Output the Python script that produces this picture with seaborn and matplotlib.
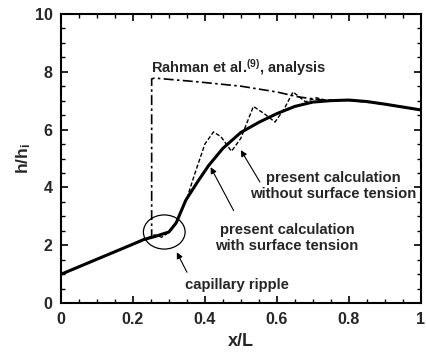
import numpy as np
import pandas as pd
import matplotlib
matplotlib.use("Agg")
import matplotlib.pyplot as plt
import seaborn as sns
from matplotlib.patches import Ellipse
from matplotlib.ticker import MultipleLocator

# ---- data ----
x_with = [0.0, 0.05, 0.10, 0.15, 0.20, 0.23, 0.26, 0.30, 0.32, 0.347, 0.38, 0.41,
          0.45, 0.50, 0.55, 0.60, 0.65, 0.70, 0.75, 0.80, 0.85, 0.90, 0.95, 1.0]
y_with = [1.0, 1.26, 1.52, 1.78, 2.04, 2.20, 2.30, 2.46, 2.77, 3.56, 4.20, 4.75,
          5.35, 5.90, 6.25, 6.55, 6.80, 6.95, 7.00, 7.02, 6.97, 6.88, 6.78, 6.68]

x_without = [0.0, 0.05, 0.10, 0.15, 0.20, 0.23, 0.26, 0.28, 0.30, 0.32, 0.35, 0.37,
             0.40, 0.424, 0.445, 0.474, 0.50, 0.535, 0.565, 0.595, 0.62, 0.645,
             0.68, 0.71, 0.74, 0.78, 0.85, 0.90, 0.95, 1.0]
y_without = [1.0, 1.26, 1.52, 1.78, 2.04, 2.20, 2.36, 2.28, 2.45, 2.80, 3.62, 4.40,
             5.50, 5.92, 5.75, 5.25, 5.70, 6.80, 6.55, 6.26, 6.70, 7.30,
             6.96, 7.10, 7.00, 7.02, 6.97, 6.88, 6.78, 6.68]

x_rahman = [0.0, 0.10, 0.20, 0.252, 0.252, 0.26, 0.38, 0.50, 0.60, 0.66, 0.72,
            0.80, 0.90, 1.0]
y_rahman = [1.0, 1.52, 2.04, 2.28, 7.75, 7.78, 7.65, 7.50, 7.30, 7.13, 7.03,
            7.02, 6.88, 6.68]

x_ticks = [0, 0.2, 0.4, 0.6, 0.8, 1]
x_tick_labels = ["0", "0.2", "0.4", "0.6", "0.8", "1"]
y_ticks = [0, 2, 4, 6, 8, 10]

label_rahman = "Rahman et al.$^{(9)}$, analysis"
label_without = "present calculation\nwithout surface tension"
label_with = "present calculation\nwith surface tension"
label_ripple = "capillary ripple"

df_with = pd.DataFrame({"x": x_with, "y": y_with})
df_without = pd.DataFrame({"x": x_without, "y": y_without})
df_rahman = pd.DataFrame({"x": x_rahman, "y": y_rahman})

sns.set_style("ticks")
plt.rcParams["font.family"] = ["Liberation Sans", "DejaVu Sans"]
plt.rcParams["mathtext.fontset"] = "custom"
plt.rcParams["mathtext.rm"] = "Liberation Sans:bold"
plt.rcParams["mathtext.it"] = "Liberation Sans:bold"
plt.rcParams["mathtext.bf"] = "Liberation Sans:bold"

fig = plt.figure(figsize=(4.27, 3.55), dpi=100)
ax = fig.add_axes([0.143, 0.146, 0.842, 0.815])

sns.lineplot(data=df_rahman, x="x", y="y", sort=False, estimator=None, ax=ax,
             color="black", lw=1.2, linestyle=(0, (6, 2, 1.5, 2)))
sns.lineplot(data=df_without, x="x", y="y", sort=False, estimator=None, ax=ax,
             color="black", lw=1.0, linestyle=(0, (3, 1.5)))
sns.lineplot(data=df_with, x="x", y="y", sort=False, estimator=None, ax=ax,
             color="black", lw=2.2)

ax.set_xlim(0, 1)
ax.set_ylim(0, 10)
ax.set_xticks(x_ticks)
ax.set_xticklabels(x_tick_labels)
ax.set_yticks(y_ticks)
ax.xaxis.set_minor_locator(MultipleLocator(0.05))
ax.yaxis.set_minor_locator(MultipleLocator(0.5))
ax.tick_params(which="both", direction="in", top=True, right=True, color="black")
ax.tick_params(which="major", length=5, width=1.2, labelsize=11.5, pad=6)
ax.tick_params(which="minor", length=3, width=1.0)
for lab in ax.get_xticklabels() + ax.get_yticklabels():
    lab.set_fontweight("bold")
for sp in ax.spines.values():
    sp.set_linewidth(1.5)
    sp.set_color("black")

ax.set_xlabel("x/L", fontsize=13, fontweight="bold", labelpad=5)
ax.set_ylabel("h/h$_\\mathregular{i}$", fontsize=12.5, fontweight="bold", labelpad=1)

ax.text(0.25, 8.13, label_rahman, ha="left", va="center", fontsize=10.5,
        fontweight="bold")
ax.text(0.758, 4.05, label_without, ha="center", va="center", fontsize=10.7,
        fontweight="bold", multialignment="center", linespacing=1.2)
ax.text(0.628, 2.25, label_with, ha="center", va="center", fontsize=10.7,
        fontweight="bold", multialignment="center", linespacing=1.2)
ax.text(0.49, 0.62, label_ripple, ha="center", va="center", fontsize=10.7,
        fontweight="bold")

ax.add_patch(Ellipse((0.287, 2.46), 0.116, 1.18, fill=False, lw=0.9, color="black"))

arrow_kw = dict(arrowstyle="-|>", lw=0.8, color="black", mutation_scale=9,
                shrinkA=0, shrinkB=0)
ax.annotate("", xy=(0.322, 1.76), xytext=(0.35, 1.07), arrowprops=arrow_kw)
ax.annotate("", xy=(0.416, 4.70), xytext=(0.48, 3.20), arrowprops=arrow_kw)
ax.annotate("", xy=(0.50, 5.29), xytext=(0.553, 4.19), arrowprops=arrow_kw)

fig.savefig("out.png", dpi=100)
